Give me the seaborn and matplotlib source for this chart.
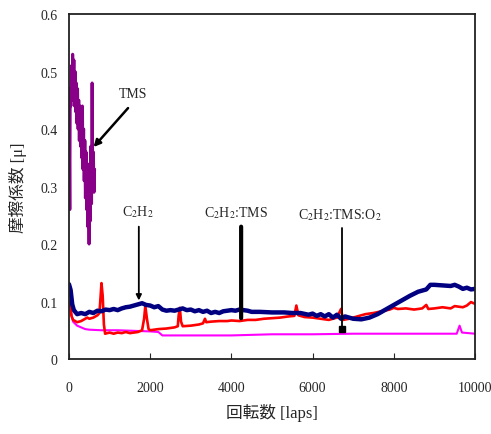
import numpy as np
import pandas as pd
import matplotlib
matplotlib.use('Agg')
import matplotlib.pyplot as plt
import seaborn as sns

# TMS (purple)
tms_x = [0, 20, 30, 45, 60, 75, 90, 105, 120, 135, 150, 165, 180, 195, 210, 225, 240, 255, 270,
         285, 300, 315, 330, 345, 360, 375, 390, 405, 420, 435, 450, 465, 480, 495, 510, 525,
         540, 555, 570, 585, 600, 615, 630]
tms_y = [0.47, 0.26, 0.47, 0.44, 0.51, 0.45, 0.53, 0.46, 0.52, 0.44, 0.50, 0.43, 0.48, 0.41, 0.47,
         0.40, 0.45, 0.38, 0.44, 0.37, 0.41, 0.35, 0.44, 0.33, 0.40, 0.31, 0.38, 0.28, 0.36,
         0.26, 0.34, 0.23, 0.30, 0.20, 0.33, 0.24, 0.37, 0.27, 0.48, 0.30, 0.36, 0.29, 0.33]

# C2H2 (navy)
c2h2_x = [0, 40, 80, 120, 200, 300, 400, 500, 600, 700, 800, 900, 1000, 1100, 1200, 1300, 1400,
          1500, 1600, 1700, 1800, 1900, 2000, 2100, 2200, 2300, 2400, 2500, 2600, 2700, 2800,
          2900, 3000, 3100, 3200, 3300, 3400, 3500, 3600, 3700, 3800, 3900, 4000, 4100, 4200,
          4300, 4400, 4500, 4700, 5000, 5300, 5500, 5700, 5900, 6000, 6100, 6200, 6300, 6400,
          6500, 6600, 6700, 6800, 6900, 7000, 7200, 7400, 7600, 7800, 8000, 8200, 8400, 8600,
          8800, 8900, 9000, 9200, 9400, 9500, 9600, 9700, 9800, 9900, 10000]
c2h2_y = [0.13, 0.12, 0.095, 0.085, 0.078, 0.080, 0.078, 0.082, 0.080, 0.084, 0.083, 0.086,
          0.085, 0.087, 0.085, 0.088, 0.090, 0.091, 0.093, 0.095, 0.097, 0.094, 0.093, 0.090,
          0.092, 0.086, 0.084, 0.085, 0.084, 0.086, 0.088, 0.085, 0.086, 0.083, 0.085, 0.082,
          0.084, 0.080, 0.082, 0.080, 0.083, 0.084, 0.085, 0.084, 0.086, 0.085, 0.084, 0.082,
          0.082, 0.081, 0.081, 0.080, 0.080, 0.077, 0.079, 0.075, 0.078, 0.074, 0.078, 0.072,
          0.077, 0.070, 0.074, 0.072, 0.070, 0.069, 0.072, 0.078, 0.086, 0.094, 0.102, 0.110,
          0.117, 0.121, 0.129, 0.129, 0.128, 0.127, 0.129, 0.126, 0.122, 0.124, 0.121, 0.122]

# C2H2:TMS (red)
mix_x = [0, 30, 60, 100, 200, 300, 400, 450, 500, 600, 700, 750, 780, 800, 830, 860, 890, 1000,
         1100, 1200, 1300, 1400, 1500, 1600, 1700, 1800, 1850, 1880, 1920, 1960, 2000, 2200,
         2400, 2600, 2680, 2700, 2730, 2760, 2800, 3000, 3200, 3300, 3350, 3380, 3500, 3700,
         3900, 4000, 4200, 4400, 4600, 4800, 5000, 5200, 5400, 5550, 5600, 5650, 5800, 6000,
         6200, 6400, 6600, 6700, 6750, 6900, 7100, 7300, 7500, 7700, 7900, 8000, 8100, 8300,
         8500, 8700, 8800, 8850, 9000, 9200, 9400, 9500, 9700, 9800, 9900, 10000]
mix_y = [0.10, 0.095, 0.075, 0.068, 0.064, 0.066, 0.070, 0.072, 0.070, 0.072, 0.076, 0.080,
         0.110, 0.132, 0.110, 0.060, 0.044, 0.046, 0.044, 0.046, 0.045, 0.047, 0.045, 0.046,
         0.047, 0.050, 0.070, 0.092, 0.070, 0.052, 0.050, 0.052, 0.053, 0.055, 0.057, 0.075,
         0.089, 0.065, 0.057, 0.058, 0.060, 0.062, 0.070, 0.064, 0.065, 0.066, 0.066, 0.067,
         0.066, 0.068, 0.068, 0.070, 0.071, 0.072, 0.074, 0.075, 0.093, 0.076, 0.073, 0.072,
         0.070, 0.068, 0.072, 0.087, 0.068, 0.070, 0.074, 0.078, 0.080, 0.083, 0.086, 0.089,
         0.087, 0.088, 0.086, 0.088, 0.094, 0.087, 0.088, 0.090, 0.088, 0.092, 0.090, 0.093,
         0.099, 0.096]

# C2H2:TMS:O2 (magenta)
o2_x = [0, 40, 100, 200, 300, 400, 500, 800, 1200, 1600, 2000, 2200, 2300, 3000, 4000, 4500,
        5000, 6000, 7000, 8000, 9000, 9550, 9620, 9680, 10000]
o2_y = [0.10, 0.085, 0.065, 0.058, 0.055, 0.052, 0.051, 0.050, 0.050, 0.049, 0.048, 0.047,
        0.041, 0.041, 0.041, 0.042, 0.043, 0.043, 0.044, 0.044, 0.044, 0.044, 0.058, 0.046,
        0.044]

sns.set_style('ticks')
plt.rcParams['font.family'] = ['Liberation Serif', 'Noto Sans CJK JP']
plt.rcParams['mathtext.fontset'] = 'stix'

fig = plt.figure(figsize=(4.91, 4.35), dpi=100)
ax = fig.add_axes([0.1405, 0.1724, 0.8269, 0.7931])

sns.lineplot(x=o2_x, y=o2_y, color='#ff00ff', lw=1.5, estimator=None, ax=ax)
sns.lineplot(x=mix_x, y=mix_y, color='#ff0000', lw=1.9, estimator=None, ax=ax)
sns.lineplot(x=c2h2_x, y=c2h2_y, color='#000080', lw=3.2, estimator=None, ax=ax)
sns.lineplot(x=tms_x, y=tms_y, color='#880088', lw=2.2, estimator=None, ax=ax, sort=False)

ax.set_xlim(0, 10000)
ax.set_ylim(0, 0.6)
ax.set_xticks([0, 2000, 4000, 6000, 8000, 10000])
ax.set_yticks([0, 0.1, 0.2, 0.3, 0.4, 0.5, 0.6])
ax.set_yticklabels(['0', '0.1', '0.2', '0.3', '0.4', '0.5', '0.6'])
ax.tick_params(axis='x', direction='in', length=4, pad=16, labelsize=10)
ax.tick_params(axis='y', length=0, pad=8, labelsize=10)
for s in ax.spines.values():
    s.set_linewidth(1.3)
    s.set_color('#222222')

ax.set_xlabel('回転数 [laps]', fontsize=12, labelpad=6)
ax.set_ylabel('摩擦係数 [μ]', fontsize=12, labelpad=10)

# labels and arrows
ax.text(1576, 0.461, 'TMS', ha='center', va='center', fontsize=10)
ax.annotate('', xy=(560, 0.365), xytext=(1500, 0.44),
            arrowprops=dict(arrowstyle='-|>', color='black', lw=1.8, mutation_scale=10))
ax.text(1700, 0.257, 'C$_2$H$_2$', ha='center', va='center', fontsize=10)
ax.annotate('', xy=(1720, 0.097), xytext=(1720, 0.235),
            arrowprops=dict(arrowstyle='-|>', color='black', lw=1.3, mutation_scale=8))
ax.text(4110, 0.256, 'C$_2$H$_2$:TMS', ha='center', va='center', fontsize=10)
ax.annotate('', xy=(4240, 0.066), xytext=(4240, 0.235),
            arrowprops=dict(arrowstyle='-', color='black', lw=3))
ax.text(6675, 0.252, 'C$_2$H$_2$:TMS:O$_2$', ha='center', va='center', fontsize=10)
ax.plot([6720, 6720], [0.052, 0.228], color='black', lw=1.3)
ax.plot([6720], [0.052], marker='s', color='black', markersize=4)

fig.savefig('out.png', dpi=100)
